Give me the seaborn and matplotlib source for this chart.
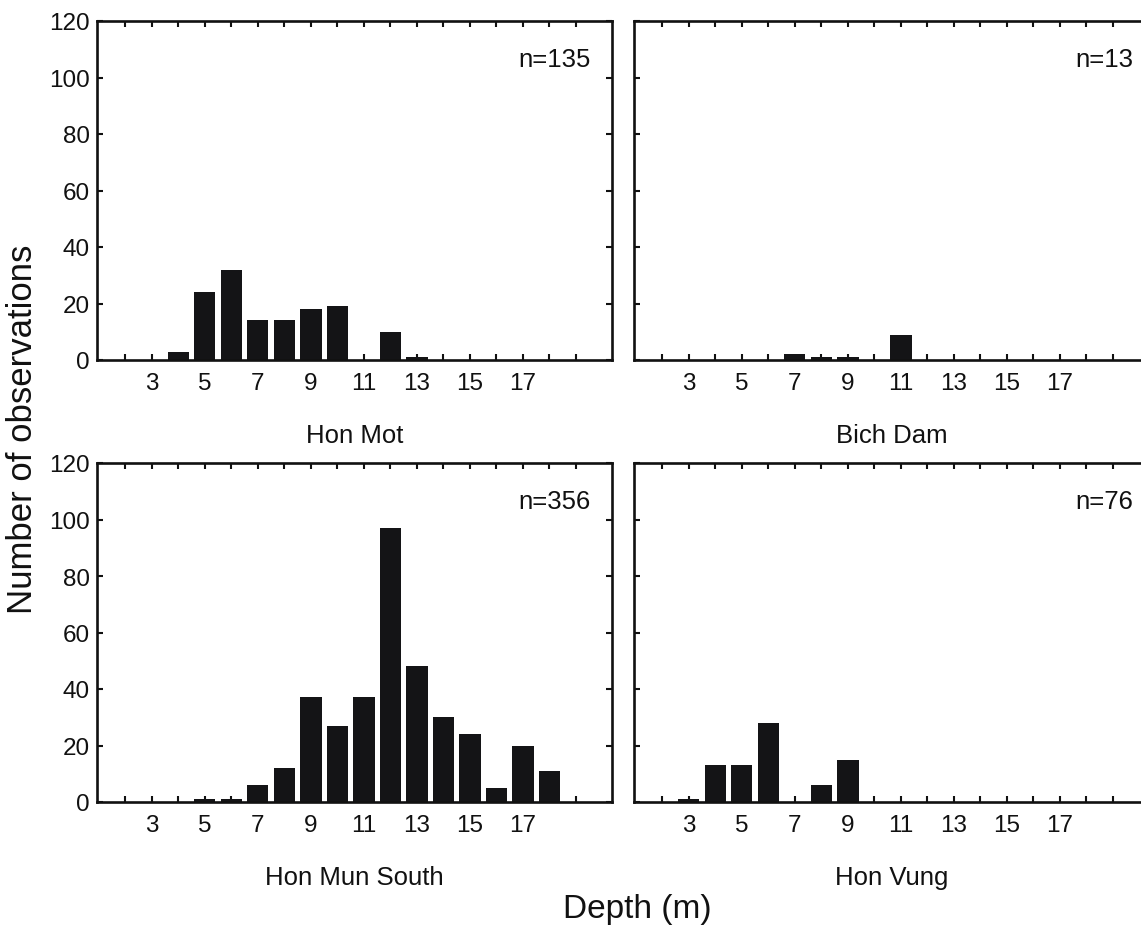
import matplotlib
matplotlib.use("Agg")
import matplotlib.pyplot as plt
import matplotlib.ticker as mticker
import seaborn as sns
import pandas as pd

# -----------------------------------------------------------------------------
# Data: number of observations per 1 m depth class, four sites
# -----------------------------------------------------------------------------
depths = [2, 3, 4, 5, 6, 7, 8, 9, 10, 11, 12, 13, 14, 15, 16, 17, 18, 19]

hon_mot = [0, 0, 3, 24, 32, 14, 14, 18, 19, 0, 10, 1, 0, 0, 0, 0, 0, 0]
bich_dam = [0, 0, 0, 0, 0, 2, 1, 1, 0, 9, 0, 0, 0, 0, 0, 0, 0, 0]
hon_mun_south = [0, 0, 0, 1, 1, 6, 12, 37, 27, 37, 97, 48, 30, 24, 5, 20, 11, 0]
hon_vung = [0, 1, 13, 13, 28, 0, 6, 15, 0, 0, 0, 0, 0, 0, 0, 0, 0, 0]

sites = ["Hon Mot", "Bich Dam", "Hon Mun South", "Hon Vung"]
counts = [hon_mot, bich_dam, hon_mun_south, hon_vung]
n_labels = ["n=135", "n=13", "n=356", "n=76"]

major_ticks = [3, 5, 7, 9, 11, 13, 15, 17]
y_ticks = [0, 20, 40, 60, 80, 100, 120]

# -----------------------------------------------------------------------------
# Style
# -----------------------------------------------------------------------------
sns.set_style("ticks")
plt.rcParams["font.family"] = ["Liberation Sans", "DejaVu Sans"]

W, H = 1141, 929
fig = plt.figure(figsize=(W / 100, H / 100), dpi=100)

# axes boxes in pixels: (left, top) ; width/height shared
ax_w, ax_h = 515, 339
boxes = [(97, 22), (634, 22), (97, 464), (634, 464)]
n_pos_x = [0.959, 0.969, 0.959, 0.969]

ink = "#111111"
bar_color = "#141416"

for i, (site, vals, nlab, (lx, ty)) in enumerate(zip(sites, counts, n_labels, boxes)):
    ax = fig.add_axes([lx / W, 1 - (ty + ax_h) / H, ax_w / W, ax_h / H])
    df = pd.DataFrame({"Depth": depths, "Count": vals})
    sns.barplot(data=df, x="Depth", y="Count", native_scale=True, width=0.8,
                color=bar_color, saturation=1, linewidth=0, ax=ax)

    ax.set_xlim(0.93, 20.36)
    ax.set_ylim(0, 120)
    ax.xaxis.set_major_locator(mticker.FixedLocator(major_ticks))
    ax.xaxis.set_minor_locator(mticker.FixedLocator([d for d in depths if d not in major_ticks]))
    ax.yaxis.set_major_locator(mticker.FixedLocator(y_ticks))

    ax.tick_params(axis="both", which="both", direction="in", top=True, right=True,
                   width=1.5, length=4, color=ink, labelcolor=ink)
    ax.tick_params(axis="x", which="major", labelsize=17.5, pad=9)
    ax.tick_params(axis="y", which="major", labelsize=17.5, pad=5)
    if i % 2 == 1:
        ax.tick_params(axis="y", labelleft=False)

    for sp in ax.spines.values():
        sp.set_linewidth(1.9)
        sp.set_color(ink)

    ax.set_xlabel("")
    ax.set_ylabel("")

    ax.text(n_pos_x[i], 0.888, nlab, transform=ax.transAxes, ha="right", va="center",
            fontsize=18.5, color=ink)
    ax.text(0.5, -0.222, site, transform=ax.transAxes, ha="center", va="center",
            fontsize=18.5, color=ink)

fig.text(637 / W, 1 - 910 / H, "Depth (m)", ha="center", va="center", fontsize=24,
         color=ink)
fig.text(23 / W, 1 - 429 / H, "Number of observations", ha="center", va="center",
         rotation=90, fontsize=25, color=ink)

fig.savefig("out.png", dpi=100)
